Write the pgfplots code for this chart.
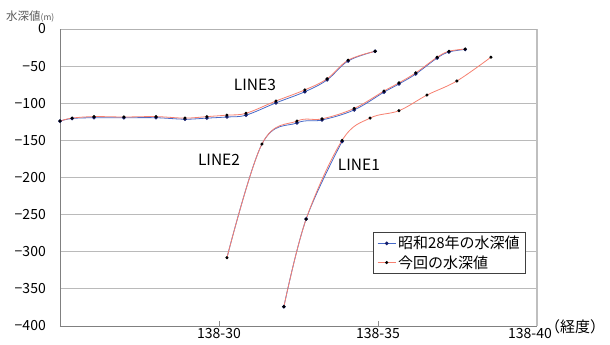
\documentclass[border=0pt]{standalone}
\usepackage{fontspec}
\setmainfont{Noto Sans CJK JP}
\usepackage{pgfplots}
\pgfplotsset{compat=1.18}
\definecolor{redl}{RGB}{246,128,112}
\definecolor{bluel}{RGB}{70,105,200}
\definecolor{navym}{RGB}{20,30,110}
\begin{document}
\begin{tikzpicture}
\useasboundingbox (-60pt,-19pt) rectangle (550pt,326pt);
\begin{axis}[
  scale only axis, width=477pt, height=297pt,
  at={(0pt,0pt)}, anchor=south west,
  xmin=25, xmax=40, ymin=-400, ymax=0,
  clip=false,
  axis line style={draw=none},
  xtick={30,35}, xticklabels={138-30,138-35},
  extra x ticks={39.78}, extra x tick labels={138-40},
  extra x tick style={major tick length=0pt, grid=none},
  ytick={-400,-350,...,0},
  yticklabels={−400,−350,−300,−250,−200,−150,−100,−50,0},
  ymajorgrids, grid style={draw=black!27, line width=0.9pt},
  tick align=inside, xtick pos=bottom, ytick pos=left,
  x tick style={draw=black!45, line width=0.8pt},
  major tick length=5pt,
  y tick style={draw=none},
  every tick label/.append style={font=\fontsize{14}{16}\selectfont, text=black},
  xticklabel style={inner sep=0pt, anchor=north, yshift=-2pt},
  yticklabel style={inner sep=0pt, anchor=east, xshift=-14pt},
  legend style={at={(rel axis cs:0.977,0.3165)}, anchor=north east,
    draw=black!75, line width=0.6pt, fill=white,
    font=\fontsize{15}{18}\selectfont, inner xsep=4pt, inner ysep=2pt,
    row sep=1pt, cells={anchor=west}},
  legend image code/.code={\draw[mark repeat=2,mark phase=2,#1] plot coordinates {(0pt,0pt) (9pt,0pt) (18pt,0pt)};},
]
% frame
\draw[black!25, line width=1.6pt] (rel axis cs:1,0) -- (rel axis cs:1,1);
\draw[black!30, line width=0.9pt] (rel axis cs:0,1) -- (rel axis cs:1,1);
\draw[black!50, line width=0.9pt] (rel axis cs:0,0) -- (rel axis cs:0,1);
\draw[black!50, line width=0.9pt] (rel axis cs:0,0) -- (rel axis cs:1,0);

% LINE3
\addplot[bluel, line width=0.8pt, smooth, tension=0.6, mark=*, mark size=1.4pt, mark options={fill=navym, draw=navym}] coordinates {
(25.0,-124) (25.38,-120.5) (26.07,-119.5) (27.01,-119.5) (28.02,-119.5) (28.93,-121.5) (29.62,-120) (30.25,-118.5) (30.85,-116) (31.79,-99.5) (32.70,-84.5) (33.40,-68.5) (34.06,-43) (34.91,-30)};
\addlegendentry{昭和28年の水深値}
\addplot[redl, line width=0.8pt, smooth, tension=0.6, mark=*, mark size=1.1pt, mark options={fill=black, draw=black}] coordinates {
(25.0,-124) (25.38,-120) (26.07,-118) (27.01,-118.5) (28.02,-118) (28.93,-120) (29.62,-118) (30.25,-116) (30.85,-113.5) (31.79,-97) (32.70,-82) (33.40,-67) (34.06,-42) (34.91,-30)};
\addlegendentry{今回の水深値}

% LINE2
\addplot[bluel, line width=0.8pt, smooth, tension=0.6, mark=*, mark size=1.4pt, mark indices={3,...,11}, mark options={fill=navym, draw=navym}, forget plot] coordinates {
(30.25,-308) (31.35,-155) (32.45,-126.5) (33.24,-122.5) (34.25,-109) (35.19,-85) (35.66,-74) (36.19,-60.5) (36.86,-39) (37.23,-31) (37.74,-27.5)};
\addplot[redl, line width=0.8pt, smooth, tension=0.6, mark=*, mark size=1.1pt, mark options={fill=black, draw=black}, forget plot] coordinates {
(30.25,-308) (31.35,-155) (32.45,-124) (33.24,-121) (34.25,-107) (35.19,-83.5) (35.66,-72.5) (36.19,-59) (36.86,-38) (37.23,-30) (37.74,-27)};

% LINE1
\addplot[bluel, line width=0.8pt, smooth, tension=0.6, mark=*, mark size=1.4pt, mark options={fill=navym, draw=navym}, forget plot] coordinates {
(32.04,-374) (32.74,-256) (33.87,-151.5)};
\addplot[redl, line width=0.8pt, smooth, tension=0.6, mark=*, mark size=1.1pt, mark options={fill=black, draw=black}, forget plot] coordinates {
(32.04,-374) (32.74,-256) (33.87,-150) (34.75,-120) (35.66,-110) (36.54,-89) (37.48,-70) (38.55,-38)};

% labels
\node[font=\fontsize{15.5}{18}\selectfont] at (axis cs:31.13,-75.4) {LINE3};
\node[font=\fontsize{15.5}{18}\selectfont] at (axis cs:30.0,-176.4) {LINE2};
\node[font=\fontsize{15.5}{18}\selectfont] at (axis cs:34.40,-183.2) {LINE1};
\node[anchor=base west, inner sep=0pt, text=black!65] at ([xshift=-54pt,yshift=8pt]rel axis cs:0,1) {{\fontsize{11.5}{13}\selectfont 水深値}{\fontsize{8.5}{10}\selectfont (m)}};
\node[anchor=west, inner sep=0pt, font=\fontsize{15}{18}\selectfont] at ([xshift=8pt,yshift=-1pt]rel axis cs:1,0) {（経度）};
\end{axis}
\end{tikzpicture}
\end{document}
